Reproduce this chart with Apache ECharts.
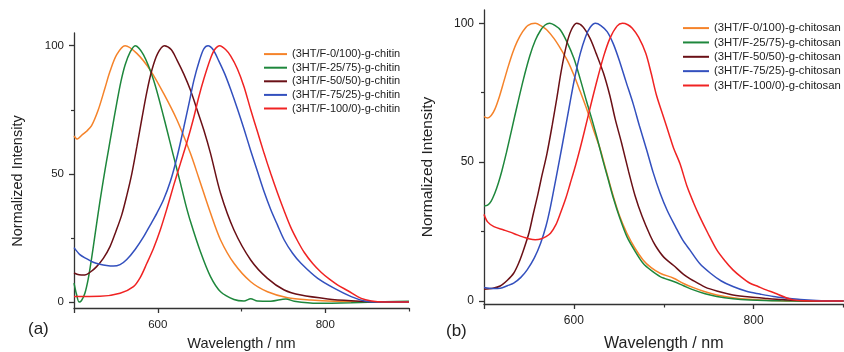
<!DOCTYPE html>
<html>
<head>
<meta charset="utf-8">
<script src="https://cdn.jsdelivr.net/npm/echarts@6/dist/echarts.min.js"></script>
<style>
html,body{margin:0;padding:0;background:#fff;}
#c{width:844px;height:352px;}
</style>
</head>
<body>
<div id="c"></div>
<script>
// ---------- Panel (a): chitin ----------
const namesA = ['(3HT/F-0/100)-g-chitin','(3HT/F-25/75)-g-chitin','(3HT/F-50/50)-g-chitin','(3HT/F-75/25)-g-chitin','(3HT/F-100/0)-g-chitin'];

const a0_x = [500,504,510,515,521,529,537,543,551,561,575,591,607,623,639,649,663,675,691,711,731,755,783,811,850,900];
const a0_y = [64.8,63.6,65.3,66.6,68.8,75,83.5,90,96.5,100,97,90.5,81.4,71,58,48.4,34.7,24.2,15.1,7.9,4.0,1.7,0.8,0.3,0,0];

const a1_x = [500,503,506,509,513,517,521,525,529,533,537,541,545,551,556,561,567,573,583,595,607,619,627,633,639,651,663,675,691,703,711,719,735,753,763,791,831,871,900];
const a1_y = [7.4,3,0,0.6,3.4,9,17,26,35,43.5,51.5,59,66.5,77.5,86,92.5,97.5,100,96.4,86.6,72.3,56.7,46.5,38.5,31.5,19.6,9.9,4.0,1.0,0.4,1.3,0.4,0.3,1.2,0.3,-0.5,-0.3,0.1,0.3];

const a2_x = [500,506,513,520,527,535,543,550,557,563,569,575,581,587,593,600,608,616,623,631,639,647,655,663,675,691,711,731,751,771,803,831,860,900];
const a2_y = [11.3,10.6,10.5,11.8,13.8,17,21.6,27.5,34,41.5,50,60.5,71.5,82,90.5,97,100,98.5,94.4,89,82.7,75,67.1,58,42.4,28.1,16.4,9.2,4.7,2.7,1.2,0.5,0.1,0];

const a3_x = [500,507,515,523,531,539,547,555,563,573,583,591,599,607,615,623,631,637,643,650,655,660,666,673,680,687,695,703,711,719,727,735,743,751,761,771,791,811,831,847,860,900];
const a3_y = [21.2,18.5,16.9,15.5,14.7,14.2,14,14.6,16.6,20.5,25.4,30,34.7,40,47,56.5,68,77,86.3,94.5,98.8,100,98.5,94,89,83,75.5,67.5,59,51,43,36,30,24.2,19,15.1,9.2,5.3,2.1,0.4,0,0];

const a4_x = [500,531,555,571,579,587,595,603,611,619,627,635,643,649,655,663,668,674,681,687,695,703,711,719,727,735,743,751,759,767,775,785,795,805,815,827,843,855,870,900];
const a4_y = [2.1,2.2,3.4,6,9.5,15.1,21,28.1,36.5,45.5,54,62.5,72,80,87,95,98.5,100,98.5,96,91,84,75,66.5,58,50,42.5,35.5,29,23.8,19.3,15,11.6,8.9,6.6,4.4,1.4,0.4,0,0];

// ---------- Panel (b): chitosan ----------
const namesB = ['(3HT/F-0/100)-g-chitosan','(3HT/F-25/75)-g-chitosan','(3HT/F-50/50)-g-chitosan','(3HT/F-75/25)-g-chitosan','(3HT/F-100/0)-g-chitosan'];

const b0_x = [500,504,508,512,517,522,527,532,537,543,549,557,564,570,578,585,593,600,607,614,622,629,636,644,651,659,668,677,686,696,711,722,733,746,759,777,796,820,850,900];
const b0_y = [66.4,65.9,66.8,69,73.5,79,84.5,89.5,93.5,97,99.3,100,99,97.6,94.5,91,86.5,81.4,75.5,69.4,61.5,55,46.8,37.6,30.5,24.4,19,14.8,12,10,8.2,6.3,4.8,3.3,2.2,1.2,0.6,0.2,0,0];

const b1_x = [500,504,508,512,516,520,525,531,537,544,551,557,563,568,573,580,585,592,600,607,614,620,626,632,638,644,651,659,668,677,686,696,711,722,733,746,759,777,796,830,870,900];
const b1_y = [34.2,34.5,36,38.8,42.5,47,53.5,62,70.5,80,88.3,93.8,97.5,99.4,100,99,97.6,93.5,87.4,80,72,65.5,58.5,51,44,37,30,23.2,18,13.6,11,8.8,7,5.5,4,2.6,1.6,0.8,0.4,0.1,0,0];

const b2_x = [500,510,518,526,533,539,544,550,555,560,564,570,576,581,586,592,597,603,610,618,625,633,640,646,653,661,668,676,685,691,700,711,722,733,746,759,777,796,815,833,860,900];
const b2_y = [4.2,4.6,5.4,7.5,10,14,18.4,24.5,31.6,38.5,44.5,53,63.5,73,83,92.5,97.5,100,98.8,94.6,89,82,74,65.5,57,46.5,38,30.4,23.5,19.8,15.8,12.8,9.6,7.3,5,3.6,2.2,1.4,0.9,0.5,0.1,0];

const b3_x = [500,510,518,526,533,541,548,556,563,569,574,580,587,596,601,607,613,618,624,630,637,644,651,658,666,673,681,688,696,704,713,721,729,740,752,764,777,792,807,822,837,852,870,900];
const b3_y = [4.9,4.5,4.6,5.5,6.4,8.5,11.2,15.5,20.8,27,34,44,56,72,80.5,89,95.2,98.5,100,99.2,97,92.5,86.2,79,71,63,54.4,46.5,38.8,32.5,26.8,22,18.4,13.5,10,7.2,5.2,3.5,2.5,1.6,1,0.5,0.2,0];

const b4_x = [500,504,511,522,530,537,544,551,557,563,569,574,580,585,591,596,602,607,612,618,625,633,640,648,654,660,665,672,680,686,692,700,706,711,718,726,733,740,749,759,768,777,786,796,805,814,824,833,844,855,900];
const b4_y = [31.2,28.5,26.8,25.6,24.7,23.8,23,22.3,22.1,22.3,23.2,24.4,27.5,31.6,37,42.4,49,55,61.5,69.5,78.5,88,94.5,99,100,99.5,98.2,95,89.2,82,74,66,60,55,49.5,41.2,35.5,30.4,24.5,18.4,14.5,11.2,8.7,6.4,5.2,4,2.8,1.6,0.4,0.1,0];

const colors = ['#F5832A','#1E873C','#6A1016','#3350BE','#F02323'];

// axis tick / label values
const xLabelVals = [600,800];
const xMajorTicks = [500,600,800];
const xMinorTicks = [700,900];
const yLabelVals = [0,50,100];
const yMinorTicks = [25,75];

const FONT = 'Liberation Sans, Arial, sans-serif';
const zip = (xs, ys) => xs.map((x,i)=>[x, ys[i]]);

const dataA = [zip(a0_x,a0_y),zip(a1_x,a1_y),zip(a2_x,a2_y),zip(a3_x,a3_y),zip(a4_x,a4_y)];
const dataB = [zip(b0_x,b0_y),zip(b1_x,b1_y),zip(b2_x,b2_y),zip(b3_x,b3_y),zip(b4_x,b4_y)];

function xAxes(grid, labelSize, nameSize, nameGap, margin){
  return [
    {gridIndex:grid,type:'value',min:500,max:900,position:'bottom',
     axisLine:{show:true,onZero:false,lineStyle:{color:'#333',width:1.3}},
     axisTick:{show:true,customValues:xMajorTicks,length:5,lineStyle:{color:'#333',width:1.3}},
     axisLabel:{customValues:xLabelVals,fontSize:labelSize,color:'#222',fontFamily:FONT,margin:margin},
     splitLine:{show:false},
     name:'Wavelength / nm',nameLocation:'middle',nameGap:nameGap,
     nameTextStyle:{fontSize:nameSize,color:'#222',fontFamily:FONT}},
    {gridIndex:grid,type:'value',min:500,max:900,position:'bottom',
     axisLine:{show:false,onZero:false},
     axisTick:{show:true,customValues:xMinorTicks,length:3.5,lineStyle:{color:'#333',width:1.2}},
     axisLabel:{show:false},splitLine:{show:false}}
  ];
}
function yAxes(grid, min, max, labelSize, margin){
  return [
    {gridIndex:grid,type:'value',min:min,max:max,position:'left',
     axisLine:{show:true,onZero:false,lineStyle:{color:'#333',width:1.3}},
     axisTick:{show:true,customValues:yLabelVals,length:5,lineStyle:{color:'#333',width:1.3}},
     axisLabel:{customValues:yLabelVals,fontSize:labelSize,color:'#222',fontFamily:FONT,margin:margin},
     splitLine:{show:false}},
    {gridIndex:grid,type:'value',min:min,max:max,position:'left',
     axisLine:{show:false,onZero:false},
     axisTick:{show:true,customValues:yMinorTicks,length:3,lineStyle:{color:'#333',width:1.2}},
     axisLabel:{show:false},splitLine:{show:false}}
  ];
}

const series = [];
namesA.forEach((n,i)=>series.push({name:n,type:'line',xAxisIndex:0,yAxisIndex:0,data:dataA[i],
  smooth:0.3,symbol:'none',lineStyle:{color:colors[i],width:1.5},itemStyle:{color:colors[i]},z:2+i}));
namesB.forEach((n,i)=>series.push({name:n,type:'line',xAxisIndex:2,yAxisIndex:2,data:dataB[i],
  smooth:0.3,symbol:'none',lineStyle:{color:colors[i],width:1.5},itemStyle:{color:colors[i]},z:2+i}));

const chart = echarts.init(document.getElementById('c'),null,{renderer:'canvas'});
chart.setOption({
  animation:false,
  backgroundColor:'#ffffff',
  textStyle:{fontFamily:FONT},
  grid:[
    {left:74,top:33,width:335,height:275,containLabel:false,outerBoundsMode:'none'},
    {left:484,top:10,width:359.5,height:294,containLabel:false,outerBoundsMode:'none'}
  ],
  xAxis:[...xAxes(0,11.5,14.5,28,11), ...xAxes(1,12,16,32,11)],
  yAxis:[...yAxes(0,-2.34,104.96,11.5,10), ...yAxes(1,-1.08,104.8,12,10)],
  legend:[
    {data:namesA,orient:'vertical',left:259,top:43.6,padding:5,icon:'rect',itemWidth:23,itemHeight:2,itemGap:2.6,
     textStyle:{fontSize:11,color:'#222',fontFamily:FONT},selectedMode:false},
    {data:namesB,orient:'vertical',left:678,top:17.6,padding:5,icon:'rect',itemWidth:26,itemHeight:2,itemGap:3.35,
     textStyle:{fontSize:11.3,color:'#222',fontFamily:FONT},selectedMode:false}
  ],
  graphic:[
    {type:'text',left:28,top:321,style:{text:'(a)',fontSize:17,fill:'#222',fontFamily:FONT}},
    {type:'text',left:446,top:323,style:{text:'(b)',fontSize:17,fill:'#222',fontFamily:FONT}},
    {type:'text',x:18,y:181,rotation:Math.PI/2,style:{text:'Normalized Intensity',fontSize:14.5,fill:'#222',fontFamily:FONT,align:'center',verticalAlign:'middle'}},
    {type:'text',x:428,y:167,rotation:Math.PI/2,style:{text:'Normalized Intensity',fontSize:15.5,fill:'#222',fontFamily:FONT,align:'center',verticalAlign:'middle'}}
  ],
  series:series
});
</script>
</body>
</html>
